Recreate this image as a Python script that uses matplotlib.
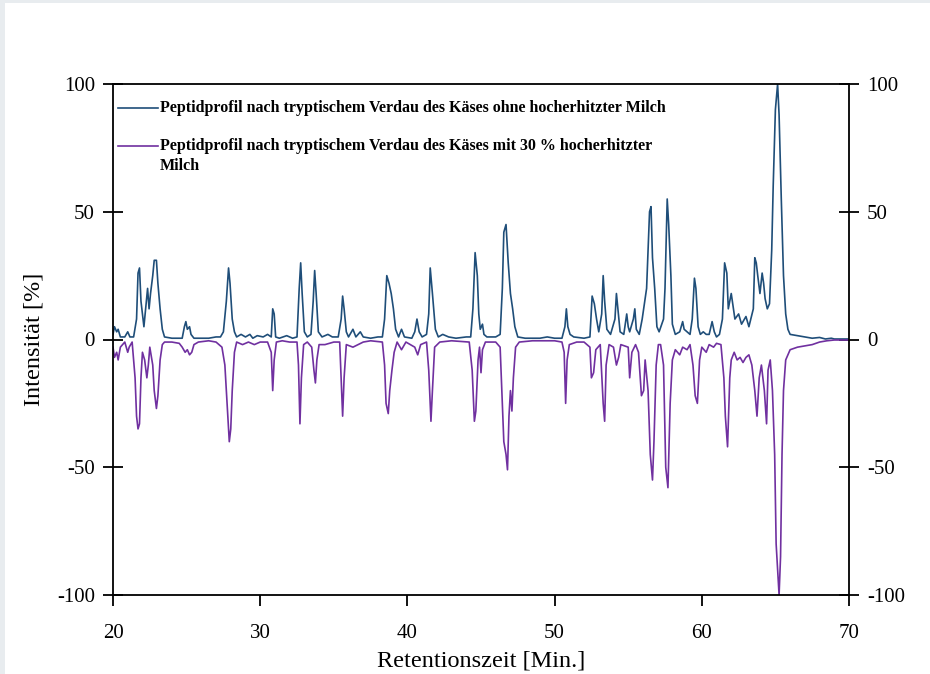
import matplotlib.pyplot as plt
from matplotlib.patches import Rectangle

# Peptidprofile (Retentionszeit in Min., Intensität in %)
zeit_ohne = [20.0, 20.1, 20.25, 20.35, 20.5, 20.8, 21.0, 21.15, 21.4, 21.6, 21.7, 21.8, 21.9, 22.0,
             22.1, 22.25, 22.35, 22.45, 22.55, 22.7, 22.8, 22.95, 23.05, 23.2, 23.35, 23.5, 24.0,
             24.7, 24.85, 24.95, 25.05, 25.2, 25.3, 25.5, 26.5, 27.0, 27.3, 27.5, 27.7, 27.85,
             27.95, 28.1, 28.25, 28.4, 28.7, 29.0, 29.3, 29.5, 29.8, 30.2, 30.5, 30.75, 30.85,
             30.95, 31.05, 31.3, 31.8, 32.2, 32.5, 32.65, 32.75, 32.85, 33.0, 33.2, 33.45, 33.6,
             33.7, 33.8, 33.95, 34.2, 34.6, 34.9, 35.3, 35.5, 35.6, 35.7, 35.85, 36.0, 36.3, 36.5,
             36.8, 37.0, 37.5, 38.0, 38.3, 38.45, 38.6, 38.75, 38.9, 39.05, 39.2, 39.4, 39.6, 39.8,
             40.3, 40.5, 40.65, 40.8, 41.0, 41.3, 41.45, 41.55, 41.7, 41.9, 42.1, 42.4, 42.8, 43.3,
             44.0, 44.3, 44.45, 44.6, 44.75, 44.85, 44.95, 45.1, 45.2, 45.4, 46.0, 46.3, 46.45,
             46.55, 46.7, 46.85, 47.0, 47.15, 47.3, 47.5, 48.0, 49.0, 49.5, 50.0, 50.5, 50.7, 50.8,
             50.9, 51.05, 51.3, 52.0, 52.4, 52.55, 52.7, 52.85, 53.0, 53.2, 53.3, 53.4, 53.55, 53.8,
             54.1, 54.2, 54.3, 54.45, 54.7, 54.9, 55.0, 55.1, 55.35, 55.45, 55.55, 55.75, 55.95,
             56.25, 56.45, 56.55, 56.65, 56.8, 56.95, 57.1, 57.4, 57.5, 57.65, 57.75, 57.9, 58.0,
             58.2, 58.5, 58.7, 58.8, 59.0, 59.2, 59.35, 59.5, 59.6, 59.75, 59.9, 60.1, 60.3, 60.5,
             60.7, 60.85, 61.0, 61.2, 61.4, 61.55, 61.7, 61.8, 62.0, 62.1, 62.25, 62.5, 62.7, 63.0,
             63.2, 63.5, 63.6, 63.7, 63.8, 63.95, 64.1, 64.2, 64.3, 64.45, 64.6, 64.75, 64.85, 65.0,
             65.15, 65.25, 65.4, 65.55, 65.7, 65.85, 66.0, 66.5, 67.0, 67.5, 68.0, 68.4, 68.8, 69.0,
             70.0]
intensitaet_ohne = [2, 5, 3, 4, 1, 1, 3, 1, 1, 8, 26, 28, 15, 10,
                    5, 14, 20, 12, 18, 25, 31, 31, 22, 12, 4, 1, 0.5,
                    0.5, 5, 7, 4, 5, 2, 0.5, 0.5, 1, 1, 3, 15, 28,
                    22, 8, 3, 1, 2, 1, 2, 0.5, 1.5, 1, 2, 1, 12,
                    10, 1, 0.5, 1.5, 0.5, 1, 20, 30, 18, 3, 1, 2, 15,
                    27, 18, 3, 1, 2, 1, 1, 8, 17, 12, 3, 1, 4, 1,
                    3, 1, 0.5, 1, 1, 8, 25, 22, 18, 12, 4, 1, 4, 1,
                    0.5, 3, 8, 3, 1, 2, 10, 28, 18, 4, 1, 2, 1, 0.5,
                    1, 1, 12, 34, 25, 10, 4, 6, 2, 1, 1, 2, 20,
                    42, 45, 30, 18, 12, 5, 1, 0.5, 0.5, 1, 0.5, 0.5, 5, 12,
                    5, 2, 1, 0.5, 1, 17, 14, 8, 3, 10, 25, 15, 4, 2,
                    8, 18, 12, 3, 2, 10, 5, 3, 8, 12, 4, 2, 8,
                    20, 50, 52, 32, 20, 5, 3, 8, 20, 55, 45, 25, 6,
                    2, 3, 7, 4, 3, 2, 8, 24, 20, 5, 2, 3, 2, 2,
                    7, 3, 1, 2, 8, 30, 26, 12, 18, 14, 8, 10, 6, 9,
                    5, 12, 32, 30, 25, 18, 26, 22, 16, 12, 14, 35, 60, 90,
                    100, 88, 55, 25, 10, 4, 2, 1.5, 1, 0.5, 0.8, 0.2, 0.5, 0.2,
                    0.2]

zeit_mit = [20.0, 20.1, 20.25, 20.35, 20.5, 20.8, 21.0, 21.1, 21.3, 21.5, 21.6, 21.7, 21.8, 21.9,
            22.0, 22.15, 22.3, 22.4, 22.5, 22.7, 22.8, 22.95, 23.05, 23.2, 23.35, 23.5, 24.0,
            24.5, 24.7, 24.9, 25.05, 25.2, 25.35, 25.5, 25.8, 26.5, 27.0, 27.4, 27.6, 27.75,
            27.9, 28.0, 28.1, 28.25, 28.4, 28.8, 29.2, 29.6, 30.0, 30.5, 30.75, 30.85, 30.95,
            31.1, 31.5, 32.0, 32.5, 32.6, 32.7, 32.8, 32.95, 33.2, 33.5, 33.65, 33.75, 33.85,
            34.0, 34.4, 35.0, 35.4, 35.5, 35.6, 35.7, 35.85, 36.3, 37.0, 37.5, 38.3, 38.45,
            38.55, 38.7, 38.8, 38.95, 39.1, 39.3, 39.6, 39.9, 40.5, 40.7, 40.9, 41.3, 41.45,
            41.6, 41.7, 41.85, 42.2, 43.0, 44.2, 44.4, 44.55, 44.65, 44.8, 44.9, 45.0, 45.1,
            45.3, 46.0, 46.3, 46.45, 46.55, 46.7, 46.8, 46.9, 47.0, 47.1, 47.2, 47.35, 47.6,
            48.5, 50.0, 50.5, 50.65, 50.75, 50.85, 51.0, 51.5, 52.0, 52.4, 52.5, 52.65, 52.8,
            53.1, 53.3, 53.4, 53.5, 53.7, 54.0, 54.2, 54.35, 54.5, 55.0, 55.1, 55.25, 55.5,
            55.7, 55.9, 56.05, 56.15, 56.35, 56.5, 56.65, 56.75, 56.9, 57.05, 57.2, 57.4, 57.55,
            57.7, 57.85, 58.0, 58.2, 58.5, 58.7, 59.0, 59.2, 59.4, 59.55, 59.7, 59.85, 60.0,
            60.3, 60.5, 60.8, 61.0, 61.3, 61.5, 61.6, 61.75, 61.9, 62.0, 62.2, 62.4, 62.6, 62.8,
            63.0, 63.2, 63.4, 63.6, 63.75, 63.9, 64.05, 64.25, 64.4, 64.5, 64.65, 64.8, 64.95,
            65.05, 65.15, 65.25, 65.35, 65.45, 65.55, 65.7, 66.0, 66.5, 67.0, 67.5, 68.0, 68.5,
            69.0, 70.0]
intensitaet_mit = [-3, -7, -5, -8, -3, -1, -5, -3, -1, -15, -30, -35, -33, -15,
                   -5, -8, -15, -10, -3, -10, -20, -27, -22, -8, -2, -1, -1,
                   -1.5, -3, -5, -4, -6, -5, -2, -1, -0.5, -1, -3, -10, -25,
                   -40, -35, -20, -5, -1, -2, -1, -2, -1, -1, -5, -20, -8,
                   -1, -0.5, -1, -1, -10, -33, -15, -2, -1, -3, -12, -17, -8,
                   -2, -2, -1, -1, -15, -30, -15, -2, -3, -1, -0.5, -1, -10,
                   -25, -29, -20, -12, -5, -1, -4, -1, -3, -6, -2, -1, -12,
                   -32, -20, -3, -1, -0.5, -1, -12, -32, -28, -8, -3, -13, -4,
                   -1, -1, -3, -25, -40, -45, -51, -30, -20, -28, -15, -3, -1,
                   -0.5, -0.5, -1, -5, -25, -8, -2, -1, -1, -3, -15, -13, -4,
                   -2, -25, -32, -10, -2, -3, -10, -7, -2, -3, -15, -5, -2,
                   -5, -22, -20, -8, -20, -45, -55, -40, -10, -2, -2, -10, -50,
                   -58, -25, -8, -4, -6, -3, -4, -2, -10, -22, -25, -8, -3,
                   -5, -2, -3, -1.5, -2, -15, -30, -42, -15, -8, -5, -8, -7, -9,
                   -7, -6, -10, -20, -30, -15, -10, -20, -33, -12, -8, -20, -45,
                   -80, -90, -100, -85, -45, -20, -8, -4, -3, -2.5, -2, -1, -0.5,
                   -0.2, -0.2]

x_ticks = [20, 30, 40, 50, 60, 70]
y_ticks = [-100, -50, 0, 50, 100]
label_ohne = "Peptidprofil nach tryptischem Verdau des Käses ohne hocherhitzter Milch"
label_mit = ["Peptidprofil nach tryptischem Verdau des Käses mit 30 % hocherhitzter", "Milch"]

plt.rcParams['font.family'] = ['Liberation Serif', 'DejaVu Serif']
plt.rcParams['axes.unicode_minus'] = False

fig = plt.figure(figsize=(9.3, 6.74), dpi=100, facecolor='#e8ecef')
fig.patches.append(Rectangle((5 / 930, 0), 1, 671 / 674, transform=fig.transFigure,
                             facecolor='white', edgecolor='none', zorder=-10))
ax = fig.add_axes([113 / 930, 1 - 595 / 674, 736 / 930, 511 / 674])
ax.set_facecolor('white')

ax.plot(zeit_ohne, intensitaet_ohne, color='#1f4e79', lw=1.2)
ax.plot(zeit_mit, intensitaet_mit, color='#7030a0', lw=1.2)

ax.set_xlim(20, 70)
ax.set_ylim(-100, 100)
ax.set_xticks(x_ticks)
ax.set_yticks(y_ticks)
ax.tick_params(axis='y', direction='inout', length=14, width=1.3, right=True,
               labelright=True, labelsize=15, pad=6)
ax.tick_params(axis='x', direction='out', length=8, width=1.3, labelsize=15, pad=13)
for s in ax.spines.values():
    s.set_linewidth(1.3)

ax.set_xlabel('Retentionszeit [Min.]', fontsize=17.5, labelpad=5)
ax.set_ylabel('Intensität [%]', fontsize=17.5, labelpad=9)

# Legende von Hand gesetzt
ax.plot([0.007, 0.061], [0.953, 0.953], transform=ax.transAxes, color='#1f4e79', lw=1.2)
ax.text(0.064, 0.953, label_ohne, transform=ax.transAxes, fontsize=11.5,
        fontweight='bold', va='center', ha='left')
ax.plot([0.007, 0.061], [0.879, 0.879], transform=ax.transAxes, color='#7030a0', lw=1.2)
ax.text(0.064, 0.879, label_mit[0], transform=ax.transAxes, fontsize=11.5,
        fontweight='bold', va='center', ha='left')
ax.text(0.064, 0.8395, label_mit[1], transform=ax.transAxes, fontsize=11.5,
        fontweight='bold', va='center', ha='left')

fig.savefig('out.png', dpi=100, facecolor=fig.get_facecolor())
